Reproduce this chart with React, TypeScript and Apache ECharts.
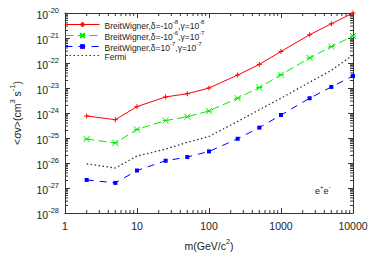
import React, { useEffect, useRef } from "react";
import * as echarts from "echarts";

const masses = [2, 5, 10, 25, 50, 100, 250, 500, 1000, 2500, 5000, 10000];
const bwA = [7.6e-25, 5.4e-25, 1.8e-24, 4.4e-24, 5.9e-24, 1.0e-23, 3.3e-23, 8.8e-23, 2.9e-22, 1.35e-21, 3.7e-21, 1.0e-20];
const bwB = [9.1e-26, 6.3e-26, 2.2e-25, 5.0e-25, 7.1e-25, 1.2e-24, 3.9e-24, 1.05e-23, 3.4e-23, 1.6e-22, 4.5e-22, 1.2e-21];
const bwC = [2.1e-27, 1.6e-27, 5.0e-27, 1.23e-26, 1.73e-26, 2.9e-26, 9.3e-26, 2.6e-25, 8.3e-25, 3.9e-24, 1.1e-23, 3.0e-23];
const fermi = [9.3e-27, 6.3e-27, 1.9e-26, 3.6e-26, 6.7e-26, 1.15e-25, 4.6e-25, 1.35e-24, 3.9e-24, 1.7e-23, 5.1e-23, 2.1e-22];

const seriesNames = [
  "BreitWigner,δ=-10^-8,γ=10^-8",
  "BreitWigner,δ=-10^-6,γ=10^-7",
  "BreitWigner,δ=10^-7,γ=10^-7",
  "Fermi",
];

// y axis decades (exponents), x axis range
const yExpMin = -28;
const yExpMax = -20;
const xMin = 1;
const xMax = 10000;

const xMinorTicks = [2, 3, 4, 5, 6, 7, 8, 9, 20, 30, 40, 50, 60, 70, 80, 90, 200, 300, 400, 500, 600, 700, 800, 900, 2000, 3000, 4000, 5000, 6000, 7000, 8000, 9000];
const yMinorMantissas = [2, 3, 4, 5, 6, 7, 8, 9];
const yDecades = [-28, -27, -26, -25, -24, -23, -22, -21];

const FONT = "Liberation Sans, Arial, Helvetica, sans-serif";
const AXIS_COLOR = "#333";
const TXT = "#222";

function legendRich(name: string): string {
  const parts = name.split(/(\^-?\d+)/);
  return parts
    .filter((p) => p.length > 0)
    .map((p) => (p.startsWith("^") ? `{s|${p.slice(1)}}` : `{m|${p}}`))
    .join("");
}

const toPts = (vals: number[]) => masses.map((m, i) => [m, Math.log10(vals[i])]);

export default function App() {
  const ref = useRef<HTMLDivElement>(null);
  useEffect(() => {
    if (!ref.current) return;
    const chart = echarts.init(ref.current, null, { renderer: "svg" });

    const yMinor: number[][] = [];
    yDecades.forEach((d) => yMinorMantissas.forEach((m) => yMinor.push([xMin, d + Math.log10(m)])));
    const xMinor = xMinorTicks.map((v) => [v, yExpMin]);

    const baseX = {
      type: "log",
      logBase: 10,
      min: xMin,
      max: xMax,
      axisLine: { lineStyle: { color: AXIS_COLOR, width: 1 } },
      axisTick: { inside: true, length: 5, lineStyle: { color: AXIS_COLOR } },
      splitLine: { show: false },
      minorTick: { show: false },
    };
    const baseY = {
      type: "value",
      min: yExpMin,
      max: yExpMax,
      interval: 1,
      axisLine: { lineStyle: { color: AXIS_COLOR, width: 1 } },
      axisTick: { inside: true, length: 5, lineStyle: { color: AXIS_COLOR } },
      splitLine: { show: false },
      minorTick: { show: false },
    };
    const supRich = {
      m: { fontSize: 10.5, color: TXT, lineHeight: 14, verticalAlign: "bottom", fontFamily: FONT },
      s: { fontSize: 7.5, color: TXT, lineHeight: 8, verticalAlign: "top", fontFamily: FONT },
    };

    const option: any = {
      animation: false,
      textStyle: { fontFamily: FONT },
      grid: { left: 56, right: 21, top: 13, bottom: 49, containLabel: false },
      legend: {
        data: seriesNames.map((n, i) =>
          i === 3 ? { name: n, itemStyle: { opacity: 0 } } : { name: n }
        ),
        orient: "vertical",
        left: 60,
        top: 14,
        itemWidth: 34,
        itemHeight: 6,
        itemGap: 0,
        lineStyle: { width: 1 },
        formatter: (name: string) => legendRich(name),
        textStyle: {
          fontFamily: FONT,
          rich: {
            m: { fontSize: 8.5, color: TXT, lineHeight: 11, verticalAlign: "bottom", fontFamily: FONT },
            s: { fontSize: 6, color: TXT, lineHeight: 6, verticalAlign: "top", fontFamily: FONT },
          },
        },
      },
      xAxis: [
        {
          ...baseX,
          position: "bottom",
          name: "{m|m(GeV/c}{s|2}{m|)}",
          nameLocation: "middle",
          nameGap: 24,
          nameTextStyle: { rich: supRich },
          axisLabel: {
            fontSize: 10.5,
            color: TXT,
            margin: 7,
            fontFamily: FONT,
            formatter: (v: number) => String(Math.round(v)),
          },
        },
        { ...baseX, position: "top", axisLabel: { show: false } },
      ],
      yAxis: [
        {
          ...baseY,
          position: "left",
          name: "{m|<σv>(cm}{s|3}{m| s}{s|-1}{m|)}",
          nameLocation: "middle",
          nameGap: 43,
          nameRotate: 90,
          nameTextStyle: { rich: supRich },
          axisLabel: {
            margin: 6,
            formatter: (v: number) => `{m|10}{s|${Math.round(v)}}`,
            rich: supRich,
          },
        },
        { ...baseY, position: "right", axisLabel: { show: false } },
      ],
      graphic: [
        {
          type: "text",
          left: 315,
          top: 184,
          style: {
            text: "{m|e}{s|+}{m|e}{s|-}",
            rich: {
              m: { fontSize: 9, fill: TXT, lineHeight: 11, verticalAlign: "bottom", fontFamily: FONT },
              s: { fontSize: 6, fill: TXT, lineHeight: 6, verticalAlign: "top", fontFamily: FONT },
            },
          },
        },
      ],
      series: [
        {
          name: seriesNames[0],
          type: "line",
          data: toPts(bwA),
          symbol: "path://M0,-1L0,1M-1,0L1,0",
          symbolSize: 5,
          lineStyle: { color: "#ff0000", width: 1 },
          itemStyle: { color: "#ff0000", borderColor: "#ff0000", borderWidth: 1 },
        },
        {
          name: seriesNames[1],
          type: "line",
          data: toPts(bwB),
          symbol: "path://M-1,-1L1,1M-1,1L1,-1M-1,0L1,0",
          symbolSize: 6,
          lineStyle: { color: "#00ee00", width: 1, type: [8, 4] },
          itemStyle: { color: "#00ee00", borderColor: "#00ee00", borderWidth: 1 },
        },
        {
          name: seriesNames[2],
          type: "line",
          data: toPts(bwC),
          symbol: "rect",
          symbolSize: 4,
          lineStyle: { color: "#0000ff", width: 1, type: [7, 6] },
          itemStyle: { color: "#0000ff" },
        },
        {
          name: seriesNames[3],
          type: "line",
          data: toPts(fermi),
          symbol: "none",
          lineStyle: { color: "#333", width: 1.3, type: [1.5, 2.5] },
          itemStyle: { color: "#333" },
        },
        {
          type: "custom",
          silent: true,
          data: xMinor,
          renderItem: (params: any, api: any) => {
            const v = api.value(0);
            const b = api.coord([v, yExpMin]);
            const t = api.coord([v, yExpMax]);
            return {
              type: "group",
              children: [
                { type: "line", shape: { x1: b[0], y1: b[1], x2: b[0], y2: b[1] - 3 }, style: { stroke: AXIS_COLOR, lineWidth: 1 } },
                { type: "line", shape: { x1: t[0], y1: t[1], x2: t[0], y2: t[1] + 3 }, style: { stroke: AXIS_COLOR, lineWidth: 1 } },
              ],
            };
          },
        },
        {
          type: "custom",
          silent: true,
          data: yMinor,
          renderItem: (params: any, api: any) => {
            const v = api.value(1);
            const l = api.coord([xMin, v]);
            const r = api.coord([xMax, v]);
            return {
              type: "group",
              children: [
                { type: "line", shape: { x1: l[0], y1: l[1], x2: l[0] + 3, y2: l[1] }, style: { stroke: AXIS_COLOR, lineWidth: 1 } },
                { type: "line", shape: { x1: r[0], y1: r[1], x2: r[0] - 3, y2: r[1] }, style: { stroke: AXIS_COLOR, lineWidth: 1 } },
              ],
            };
          },
        },
      ],
    };
    chart.setOption(option);
    return () => chart.dispose();
  }, []);
  return <div ref={ref} style={{ width: 374, height: 262, position: "absolute", left: 0, top: 0 }} />;
}
